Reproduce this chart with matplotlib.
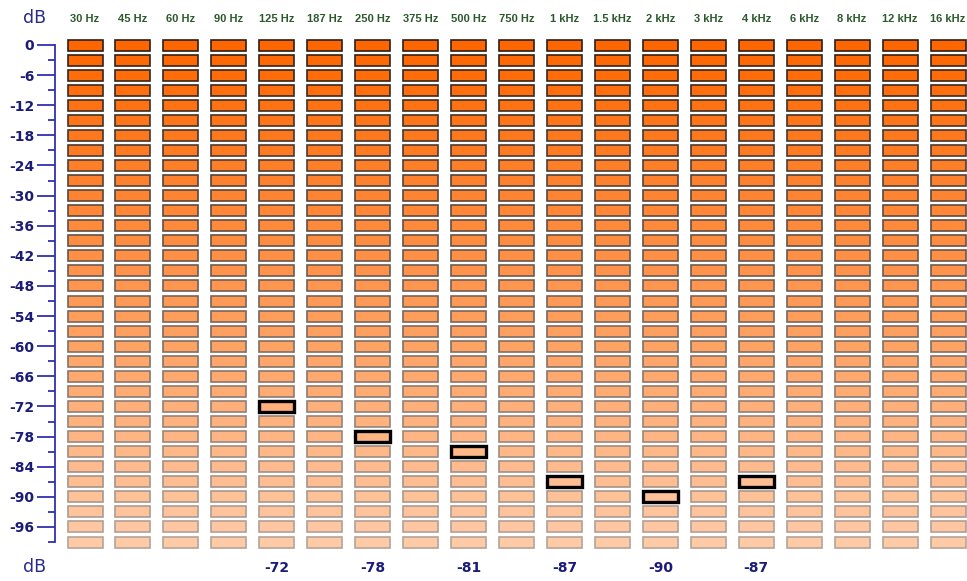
import matplotlib
matplotlib.use("Agg")
import matplotlib.pyplot as plt
import numpy as np
from matplotlib.colors import to_rgb
from matplotlib.transforms import blended_transform_factory

# data
freqs = ["30 Hz", "45 Hz", "60 Hz", "90 Hz", "125 Hz", "187 Hz", "250 Hz", "375 Hz",
         "500 Hz", "750 Hz", "1 kHz", "1.5 kHz", "2 kHz", "3 kHz", "4 kHz", "6 kHz",
         "8 kHz", "12 kHz", "16 kHz"]
peaks = [None, None, None, None, -72, None, -78, None, -81, None,
         -87, None, -90, None, -87, None, None, None, None]
levels = list(range(0, -100, -3))   # 0 .. -99 dB, one segment each
major_ticks = list(range(0, -97, -6))
minor_ticks = list(range(-3, -100, -6))

W, H = 967, 581
fig = plt.figure(figsize=(W / 100, H / 100), dpi=100)
fig.patch.set_facecolor("white")

# pixel layout: 0 dB at y=45, -99 dB at y=542; first column at x=85, step ~47.94
px_per_db = (542 - 45) / 99
ylo, yhi = -102.5, 2
ax_top = 45 - yhi * px_per_db
ax_bot = 45 + (-ylo) * px_per_db
step = (948 - 85) / 18
x0 = -(85 - 55) / step
x1 = 18 + (W - 948) / step
ax = fig.add_axes([55 / W, 1 - ax_bot / H, (W - 55) / W, (ax_bot - ax_top) / H])
ax.set_xlim(x0, x1)
ax.set_ylim(ylo, yhi)

c_top = np.array(to_rgb("#ff6600"))
c_bot = np.array(to_rgb("#ffcaa6"))
e_top = np.array(to_rgb("#2e1e14"))
e_bot = np.array(to_rgb("#b4a49a"))

bw = 35 / step
bh = 11 / px_per_db
n = len(levels)
for r, lv in enumerate(levels):
    t = r / (n - 1)
    fc = c_top + (c_bot - c_top) * t
    ec = e_top + (e_bot - e_top) * t
    ax.bar(range(len(freqs)), bh, bottom=lv - bh / 2, width=bw,
           color=fc, edgecolor=ec, linewidth=1.2)

# highlighted peak segments
for i, p in enumerate(peaks):
    if p is None:
        continue
    r = levels.index(p)
    t = r / (n - 1)
    fc = c_top + (c_bot - c_top) * t
    ax.bar(i, bh, bottom=p - bh / 2, width=bw, color=fc,
           edgecolor="black", linewidth=2.4, zorder=3)

navy = "#1b1b78"
for s in ["top", "right", "bottom"]:
    ax.spines[s].set_visible(False)
ax.spines["left"].set_color("#3030b0")
ax.spines["left"].set_linewidth(1.3)
ax.spines["left"].set_bounds(-99, 0)

ax.set_yticks(major_ticks)
ax.set_yticklabels([str(v) for v in major_ticks], fontsize=10, fontweight="bold", color=navy)
ax.set_yticks(minor_ticks, minor=True)
ax.tick_params(axis="y", which="major", length=13, width=1.3, color="#3030b0", pad=2)
ax.tick_params(axis="y", which="minor", length=5, width=1.3, color="#3030b0")

ax.xaxis.tick_top()
ax.set_xticks(range(len(freqs)))
ax.set_xticklabels(freqs, fontsize=8, fontweight="bold", color="#2c5a2c",
                   family="Liberation Sans")
ax.tick_params(axis="x", length=0, pad=8)

trans = blended_transform_factory(ax.transData, fig.transFigure)
for i, p in enumerate(peaks):
    if p is not None:
        ax.text(i, 1 - 568 / H, str(p), transform=trans, ha="center", va="center",
                fontsize=10, fontweight="bold", color=navy)

fig.text(35 / W, 1 - 18 / H, "dB", ha="center", va="center", fontsize=12.5, color="#2a2a8a")
fig.text(35 / W, 1 - 567 / H, "dB", ha="center", va="center", fontsize=12.5, color="#2a2a8a")

fig.savefig("out.png", dpi=100, facecolor="white")
